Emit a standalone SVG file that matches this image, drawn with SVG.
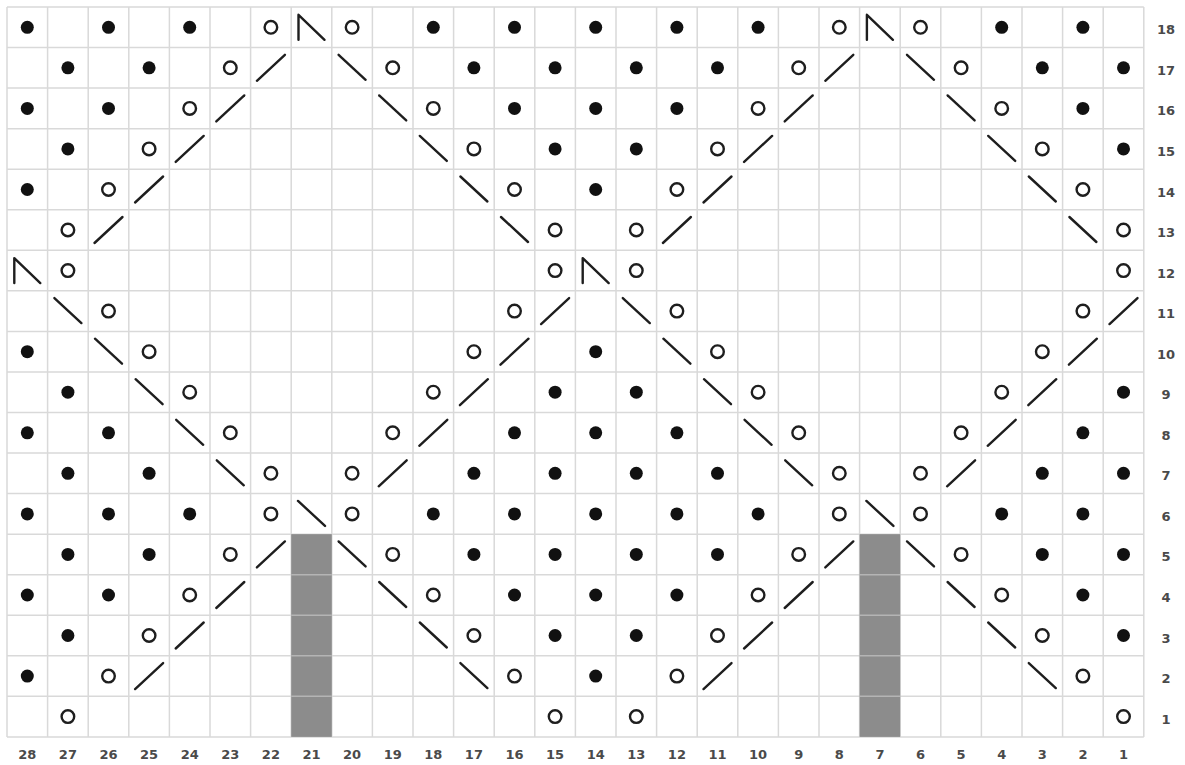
<svg xmlns="http://www.w3.org/2000/svg" width="1185" height="765" viewBox="0 0 1185 765">
<style>
.g{stroke:#d9d9d9;stroke-width:1.5;fill:none}
.sh{fill:#8c8c8c}
.sep{stroke:#b4b4b4;stroke-width:1.5}
.st{stroke:#1e1e1e;stroke-width:2.4;fill:none;stroke-linecap:round;stroke-linejoin:round}
.lb{font-family:"DejaVu Sans","Liberation Sans",sans-serif;font-size:13px;font-weight:bold;fill:#4a4a4a;text-anchor:middle}
</style>
<defs>
<circle id="dot" r="6.5" fill="#111"/>
<circle id="ring" r="6.3" class="st"/>
<line id="rs" x1="-14" y1="13" x2="14" y2="-13" class="st"/>
<line id="ls" x1="-13.5" y1="-13" x2="13.5" y2="12" class="st"/>
<polyline id="sk" points="-13,12.5 -13,-12.5 13,12.5" class="st"/>
</defs>
<rect width="1185" height="765" fill="#fff"/>
<g id="grid">
<path class="g" d="M7,7V737M47.6,7V737M88.2,7V737M128.8,7V737M169.4,7V737M210,7V737M250.6,7V737M291.2,7V737M331.8,7V737M372.4,7V737M413,7V737M453.6,7V737M494.2,7V737M534.8,7V737M575.4,7V737M616,7V737M656.6,7V737M697.2,7V737M737.8,7V737M778.4,7V737M819,7V737M859.6,7V737M900.2,7V737M940.8,7V737M981.4,7V737M1022,7V737M1062.6,7V737M1103.2,7V737M1143.8,7V737"/>
<path class="g" d="M7,7H1143.8M7,47.55H1143.8M7,88.1H1143.8M7,128.65H1143.8M7,169.2H1143.8M7,209.75H1143.8M7,250.3H1143.8M7,290.85H1143.8M7,331.4H1143.8M7,371.95H1143.8M7,412.5H1143.8M7,453.05H1143.8M7,493.6H1143.8M7,534.15H1143.8M7,574.7H1143.8M7,615.25H1143.8M7,655.8H1143.8M7,696.35H1143.8M7,736.9H1143.8"/>
</g>
<g id="shaded">
<rect class="sh" x="291.2" y="534.15" width="40.6" height="202.75"/>
<rect class="sh" x="859.6" y="534.15" width="40.6" height="202.75"/>
<path class="sep" d="M291.2,574.7h40.6M291.2,615.25h40.6M291.2,655.8h40.6M291.2,696.35h40.6M859.6,574.7h40.6M859.6,615.25h40.6M859.6,655.8h40.6M859.6,696.35h40.6"/>
</g>
<g id="symbols">
<!-- row 18 -->
<use href="#dot" x="27.3" y="27.3"/><use href="#dot" x="108.5" y="27.3"/><use href="#dot" x="189.7" y="27.3"/><use href="#ring" x="270.9" y="27.3"/><use href="#sk" x="311.5" y="27.3"/><use href="#ring" x="352.1" y="27.3"/><use href="#dot" x="433.3" y="27.3"/><use href="#dot" x="514.5" y="27.3"/><use href="#dot" x="595.7" y="27.3"/><use href="#dot" x="676.9" y="27.3"/><use href="#dot" x="758.1" y="27.3"/><use href="#ring" x="839.3" y="27.3"/><use href="#sk" x="879.9" y="27.3"/><use href="#ring" x="920.5" y="27.3"/><use href="#dot" x="1001.7" y="27.3"/><use href="#dot" x="1082.9" y="27.3"/>
<!-- row 17 -->
<use href="#dot" x="67.9" y="67.8"/><use href="#dot" x="149.1" y="67.8"/><use href="#ring" x="230.3" y="67.8"/><use href="#rs" x="270.9" y="67.8"/><use href="#ls" x="352.1" y="67.8"/><use href="#ring" x="392.7" y="67.8"/><use href="#dot" x="473.9" y="67.8"/><use href="#dot" x="555.1" y="67.8"/><use href="#dot" x="636.3" y="67.8"/><use href="#dot" x="717.5" y="67.8"/><use href="#ring" x="798.7" y="67.8"/><use href="#rs" x="839.3" y="67.8"/><use href="#ls" x="920.5" y="67.8"/><use href="#ring" x="961.1" y="67.8"/><use href="#dot" x="1042.3" y="67.8"/><use href="#dot" x="1123.5" y="67.8"/>
<!-- row 16 -->
<use href="#dot" x="27.3" y="108.4"/><use href="#dot" x="108.5" y="108.4"/><use href="#ring" x="189.7" y="108.4"/><use href="#rs" x="230.3" y="108.4"/><use href="#ls" x="392.7" y="108.4"/><use href="#ring" x="433.3" y="108.4"/><use href="#dot" x="514.5" y="108.4"/><use href="#dot" x="595.7" y="108.4"/><use href="#dot" x="676.9" y="108.4"/><use href="#ring" x="758.1" y="108.4"/><use href="#rs" x="798.7" y="108.4"/><use href="#ls" x="961.1" y="108.4"/><use href="#ring" x="1001.7" y="108.4"/><use href="#dot" x="1082.9" y="108.4"/>
<!-- row 15 -->
<use href="#dot" x="67.9" y="148.9"/><use href="#ring" x="149.1" y="148.9"/><use href="#rs" x="189.7" y="148.9"/><use href="#ls" x="433.3" y="148.9"/><use href="#ring" x="473.9" y="148.9"/><use href="#dot" x="555.1" y="148.9"/><use href="#dot" x="636.3" y="148.9"/><use href="#ring" x="717.5" y="148.9"/><use href="#rs" x="758.1" y="148.9"/><use href="#ls" x="1001.7" y="148.9"/><use href="#ring" x="1042.3" y="148.9"/><use href="#dot" x="1123.5" y="148.9"/>
<!-- row 14 -->
<use href="#dot" x="27.3" y="189.5"/><use href="#ring" x="108.5" y="189.5"/><use href="#rs" x="149.1" y="189.5"/><use href="#ls" x="473.9" y="189.5"/><use href="#ring" x="514.5" y="189.5"/><use href="#dot" x="595.7" y="189.5"/><use href="#ring" x="676.9" y="189.5"/><use href="#rs" x="717.5" y="189.5"/><use href="#ls" x="1042.3" y="189.5"/><use href="#ring" x="1082.9" y="189.5"/>
<!-- row 13 -->
<use href="#ring" x="67.9" y="230"/><use href="#rs" x="108.5" y="230"/><use href="#ls" x="514.5" y="230"/><use href="#ring" x="555.1" y="230"/><use href="#ring" x="636.3" y="230"/><use href="#rs" x="676.9" y="230"/><use href="#ls" x="1082.9" y="230"/><use href="#ring" x="1123.5" y="230"/>
<!-- row 12 -->
<use href="#sk" x="27.3" y="270.6"/><use href="#ring" x="67.9" y="270.6"/><use href="#ring" x="555.1" y="270.6"/><use href="#sk" x="595.7" y="270.6"/><use href="#ring" x="636.3" y="270.6"/><use href="#ring" x="1123.5" y="270.6"/>
<!-- row 11 -->
<use href="#ls" x="67.9" y="311.1"/><use href="#ring" x="108.5" y="311.1"/><use href="#ring" x="514.5" y="311.1"/><use href="#rs" x="555.1" y="311.1"/><use href="#ls" x="636.3" y="311.1"/><use href="#ring" x="676.9" y="311.1"/><use href="#ring" x="1082.9" y="311.1"/><use href="#rs" x="1123.5" y="311.1"/>
<!-- row 10 -->
<use href="#dot" x="27.3" y="351.7"/><use href="#ls" x="108.5" y="351.7"/><use href="#ring" x="149.1" y="351.7"/><use href="#ring" x="473.9" y="351.7"/><use href="#rs" x="514.5" y="351.7"/><use href="#dot" x="595.7" y="351.7"/><use href="#ls" x="676.9" y="351.7"/><use href="#ring" x="717.5" y="351.7"/><use href="#ring" x="1042.3" y="351.7"/><use href="#rs" x="1082.9" y="351.7"/>
<!-- row 9 -->
<use href="#dot" x="67.9" y="392.2"/><use href="#ls" x="149.1" y="392.2"/><use href="#ring" x="189.7" y="392.2"/><use href="#ring" x="433.3" y="392.2"/><use href="#rs" x="473.9" y="392.2"/><use href="#dot" x="555.1" y="392.2"/><use href="#dot" x="636.3" y="392.2"/><use href="#ls" x="717.5" y="392.2"/><use href="#ring" x="758.1" y="392.2"/><use href="#ring" x="1001.7" y="392.2"/><use href="#rs" x="1042.3" y="392.2"/><use href="#dot" x="1123.5" y="392.2"/>
<!-- row 8 -->
<use href="#dot" x="27.3" y="432.8"/><use href="#dot" x="108.5" y="432.8"/><use href="#ls" x="189.7" y="432.8"/><use href="#ring" x="230.3" y="432.8"/><use href="#ring" x="392.7" y="432.8"/><use href="#rs" x="433.3" y="432.8"/><use href="#dot" x="514.5" y="432.8"/><use href="#dot" x="595.7" y="432.8"/><use href="#dot" x="676.9" y="432.8"/><use href="#ls" x="758.1" y="432.8"/><use href="#ring" x="798.7" y="432.8"/><use href="#ring" x="961.1" y="432.8"/><use href="#rs" x="1001.7" y="432.8"/><use href="#dot" x="1082.9" y="432.8"/>
<!-- row 7 -->
<use href="#dot" x="67.9" y="473.3"/><use href="#dot" x="149.1" y="473.3"/><use href="#ls" x="230.3" y="473.3"/><use href="#ring" x="270.9" y="473.3"/><use href="#ring" x="352.1" y="473.3"/><use href="#rs" x="392.7" y="473.3"/><use href="#dot" x="473.9" y="473.3"/><use href="#dot" x="555.1" y="473.3"/><use href="#dot" x="636.3" y="473.3"/><use href="#dot" x="717.5" y="473.3"/><use href="#ls" x="798.7" y="473.3"/><use href="#ring" x="839.3" y="473.3"/><use href="#ring" x="920.5" y="473.3"/><use href="#rs" x="961.1" y="473.3"/><use href="#dot" x="1042.3" y="473.3"/><use href="#dot" x="1123.5" y="473.3"/>
<!-- row 6 -->
<use href="#dot" x="27.3" y="513.9"/><use href="#dot" x="108.5" y="513.9"/><use href="#dot" x="189.7" y="513.9"/><use href="#ring" x="270.9" y="513.9"/><use href="#ls" x="311.5" y="513.9"/><use href="#ring" x="352.1" y="513.9"/><use href="#dot" x="433.3" y="513.9"/><use href="#dot" x="514.5" y="513.9"/><use href="#dot" x="595.7" y="513.9"/><use href="#dot" x="676.9" y="513.9"/><use href="#dot" x="758.1" y="513.9"/><use href="#ring" x="839.3" y="513.9"/><use href="#ls" x="879.9" y="513.9"/><use href="#ring" x="920.5" y="513.9"/><use href="#dot" x="1001.7" y="513.9"/><use href="#dot" x="1082.9" y="513.9"/>
<!-- row 5 -->
<use href="#dot" x="67.9" y="554.4"/><use href="#dot" x="149.1" y="554.4"/><use href="#ring" x="230.3" y="554.4"/><use href="#rs" x="270.9" y="554.4"/><use href="#ls" x="352.1" y="554.4"/><use href="#ring" x="392.7" y="554.4"/><use href="#dot" x="473.9" y="554.4"/><use href="#dot" x="555.1" y="554.4"/><use href="#dot" x="636.3" y="554.4"/><use href="#dot" x="717.5" y="554.4"/><use href="#ring" x="798.7" y="554.4"/><use href="#rs" x="839.3" y="554.4"/><use href="#ls" x="920.5" y="554.4"/><use href="#ring" x="961.1" y="554.4"/><use href="#dot" x="1042.3" y="554.4"/><use href="#dot" x="1123.5" y="554.4"/>
<!-- row 4 -->
<use href="#dot" x="27.3" y="595"/><use href="#dot" x="108.5" y="595"/><use href="#ring" x="189.7" y="595"/><use href="#rs" x="230.3" y="595"/><use href="#ls" x="392.7" y="595"/><use href="#ring" x="433.3" y="595"/><use href="#dot" x="514.5" y="595"/><use href="#dot" x="595.7" y="595"/><use href="#dot" x="676.9" y="595"/><use href="#ring" x="758.1" y="595"/><use href="#rs" x="798.7" y="595"/><use href="#ls" x="961.1" y="595"/><use href="#ring" x="1001.7" y="595"/><use href="#dot" x="1082.9" y="595"/>
<!-- row 3 -->
<use href="#dot" x="67.9" y="635.5"/><use href="#ring" x="149.1" y="635.5"/><use href="#rs" x="189.7" y="635.5"/><use href="#ls" x="433.3" y="635.5"/><use href="#ring" x="473.9" y="635.5"/><use href="#dot" x="555.1" y="635.5"/><use href="#dot" x="636.3" y="635.5"/><use href="#ring" x="717.5" y="635.5"/><use href="#rs" x="758.1" y="635.5"/><use href="#ls" x="1001.7" y="635.5"/><use href="#ring" x="1042.3" y="635.5"/><use href="#dot" x="1123.5" y="635.5"/>
<!-- row 2 -->
<use href="#dot" x="27.3" y="676.1"/><use href="#ring" x="108.5" y="676.1"/><use href="#rs" x="149.1" y="676.1"/><use href="#ls" x="473.9" y="676.1"/><use href="#ring" x="514.5" y="676.1"/><use href="#dot" x="595.7" y="676.1"/><use href="#ring" x="676.9" y="676.1"/><use href="#rs" x="717.5" y="676.1"/><use href="#ls" x="1042.3" y="676.1"/><use href="#ring" x="1082.9" y="676.1"/>
<!-- row 1 -->
<use href="#ring" x="67.9" y="716.6"/><use href="#ring" x="555.1" y="716.6"/><use href="#ring" x="636.3" y="716.6"/><use href="#ring" x="1123.5" y="716.6"/>
</g>
<g id="col-labels" class="lb">
<text x="27.3" y="759">28</text><text x="67.9" y="759">27</text><text x="108.5" y="759">26</text><text x="149.1" y="759">25</text><text x="189.7" y="759">24</text><text x="230.3" y="759">23</text><text x="270.9" y="759">22</text><text x="311.5" y="759">21</text><text x="352.1" y="759">20</text><text x="392.7" y="759">19</text><text x="433.3" y="759">18</text><text x="473.9" y="759">17</text><text x="514.5" y="759">16</text><text x="555.1" y="759">15</text><text x="595.7" y="759">14</text><text x="636.3" y="759">13</text><text x="676.9" y="759">12</text><text x="717.5" y="759">11</text><text x="758.1" y="759">10</text><text x="798.7" y="759">9</text><text x="839.3" y="759">8</text><text x="879.9" y="759">7</text><text x="920.5" y="759">6</text><text x="961.1" y="759">5</text><text x="1001.7" y="759">4</text><text x="1042.3" y="759">3</text><text x="1082.9" y="759">2</text><text x="1123.5" y="759">1</text>
</g>
<g id="row-labels" class="lb">
<text x="1166" y="34.3">18</text><text x="1166" y="74.8">17</text><text x="1166" y="115.4">16</text><text x="1166" y="155.9">15</text><text x="1166" y="196.5">14</text><text x="1166" y="237">13</text><text x="1166" y="277.6">12</text><text x="1166" y="318.1">11</text><text x="1166" y="358.7">10</text><text x="1166" y="399.2">9</text><text x="1166" y="439.8">8</text><text x="1166" y="480.3">7</text><text x="1166" y="520.9">6</text><text x="1166" y="561.4">5</text><text x="1166" y="602">4</text><text x="1166" y="642.5">3</text><text x="1166" y="683.1">2</text><text x="1166" y="723.6">1</text>
</g>
</svg>
